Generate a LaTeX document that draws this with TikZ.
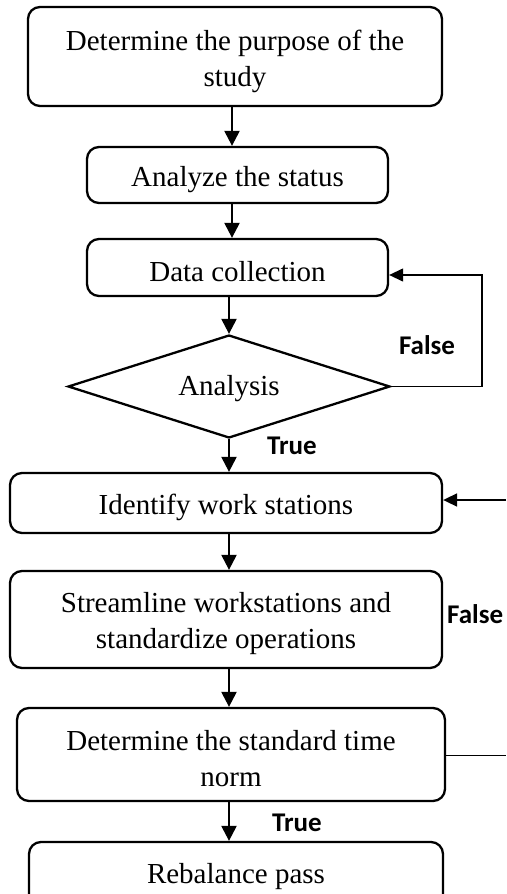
\documentclass[tikz,border=0pt]{standalone}
\usepackage{fontspec}
\setmainfont{Liberation Serif}
\newfontfamily\labelfont{Carlito}
\usetikzlibrary{arrows.meta,shapes.geometric}
\begin{document}
\begin{tikzpicture}[x=1pt,y=-1pt,
  box/.style={draw, line width=2.3pt, rounded corners=12pt, inner sep=0pt},
  txt/.style={align=center, font=\fontsize{29}{36}\selectfont, inner sep=0pt},
  decision/.style={draw, line width=2.3pt, diamond, aspect=3.13, inner sep=0pt},
  flow/.style={line width=2.3pt, -{Triangle[length=15pt,width=15pt]}},
  loopback/.style={line width=1.3pt, -{Triangle[length=14pt,width=13pt]}},
  thinline/.style={line width=1pt},
  lbl/.style={font=\labelfont\bfseries\fontsize{27}{30}\selectfont, inner sep=0pt}]

  \fill[white] (0,0) rectangle (506,894);
  \useasboundingbox (0,0) rectangle (506,894);
  \clip (0,0) rectangle (506,894);

  % process step frames
  \node[box, minimum width=414pt, minimum height=99pt] (b1) at (235,56.5) {};
  \node[box, minimum width=301pt, minimum height=56pt] (b2) at (237.5,175) {};
  \node[box, minimum width=301pt, minimum height=57pt] (b3) at (237.5,267.5) {};
  \node[decision, minimum width=322pt, minimum height=103pt] (d) at (229,386.5) {};
  \node[box, minimum width=432pt, minimum height=60pt] (b4) at (226,503) {};
  \node[box, minimum width=432pt, minimum height=97pt] (b5) at (226,619.5) {};
  \node[box, minimum width=428pt, minimum height=93pt] (b6) at (231,754.5) {};
  \node[box, minimum width=414pt, minimum height=66pt] (b7) at (236,875) {};

  % step texts, set slightly below the frame centres
  \node[txt] (b1t) at ([yshift=-5pt]b1.center) {Determine the purpose of the\\study};
  \node[txt] (b2t) at ([yshift=-5pt]b2.center) {Analyze the status};
  \node[txt] (b3t) at ([yshift=-4pt]b3.center) {Data collection};
  \node[txt] (dt)  at ([yshift=-2pt]d.center) {Analysis};
  \node[txt] (b4t) at ([yshift=-4pt]b4.center) {Identify work stations};
  \node[txt] (b5t) at ([yshift=-4pt]b5.center) {Streamline workstations and\\standardize operations};
  \node[txt] (b6t) at ([yshift=-4pt]b6.center) {Determine the standard time\\norm};
  \node[txt] (b7t) at ([yshift=-2pt]b7.center) {Rebalance pass};

  % main vertical flow
  \coordinate (spine) at (232,0);
  \draw[flow] (b1.south -| spine) -- (b2.north -| spine);
  \draw[flow] (b2.south -| spine) -- (b3.north -| spine);
  \draw[flow] (b3.south -| d.north) -- (d.north);
  \draw[flow] (d.south) -- (b4.north -| d.south);
  \draw[flow] (b4.south -| d.south) -- (b5.north -| d.south);
  \draw[flow] (b5.south -| d.south) -- (b6.north -| d.south);
  \draw[flow] (b6.south -| d.south) -- (b7.north -| d.south);

  % loop back from the decision
  \coordinate (loopx) at (482,0);
  \draw[loopback] (d.east) -- (d.east -| loopx) |- ([yshift=-7.5pt]b3.east);

  % return path from the time norm
  \coordinate (edgeA) at (506,500);
  \coordinate (edgeB) at (506,755);
  \draw[loopback, line width=1.7pt] (edgeA) -- (edgeA -| b4.east);
  \draw[thinline] (b6.east |- edgeB) -- (edgeB);

  % branch labels
  \node[lbl] (f1) at (427,345) {False};
  \node[lbl] (t1) at (292,446) {True};
  \node[lbl, anchor=west] (f2) at (447,614) {False};
  \node[lbl] (t2) at (297,823) {True};
\end{tikzpicture}
\end{document}
